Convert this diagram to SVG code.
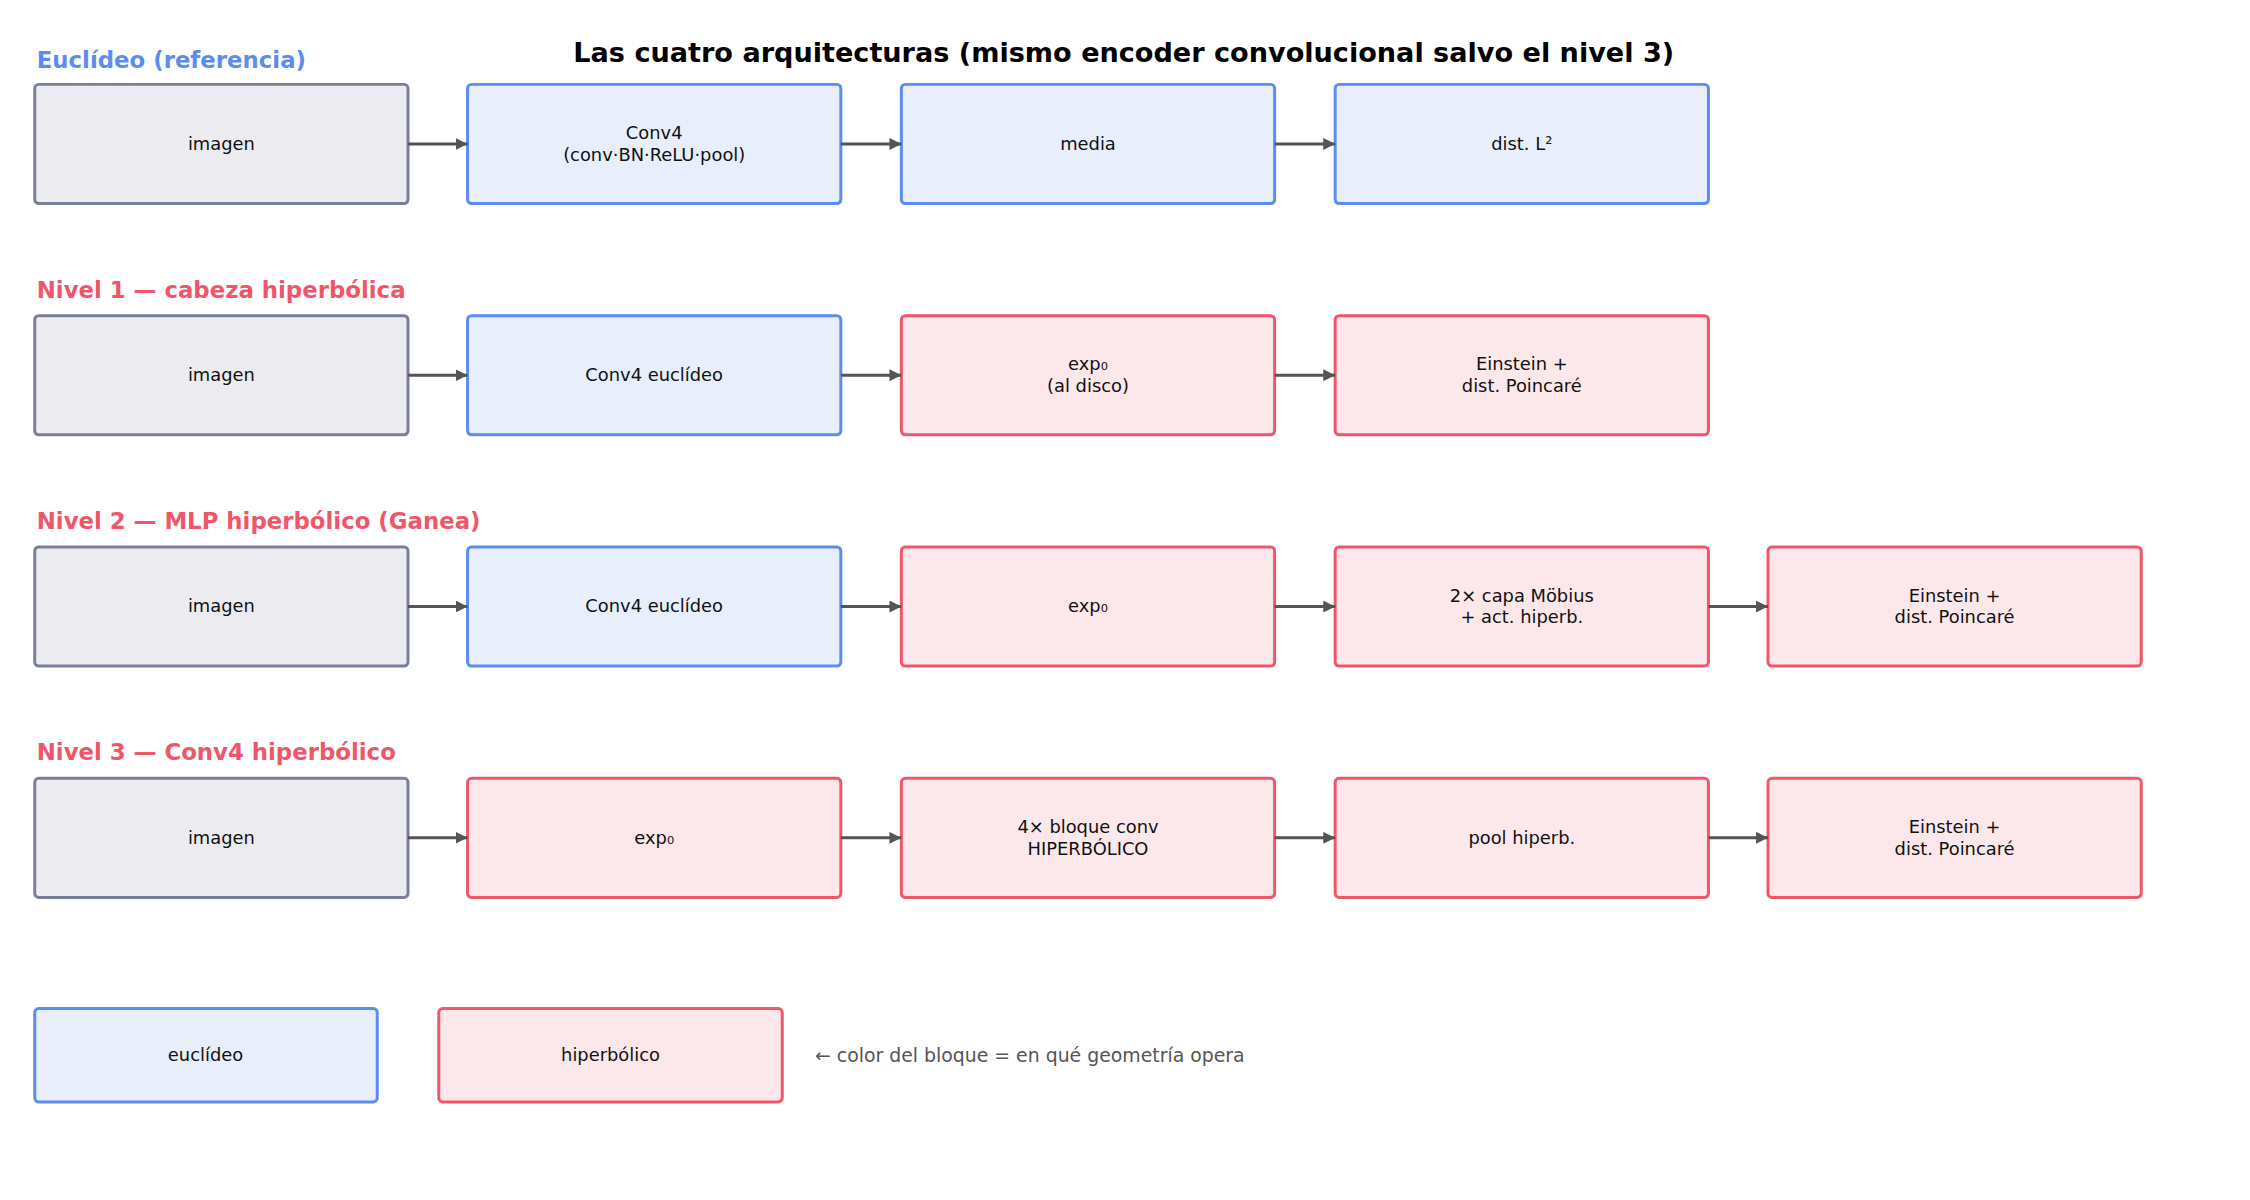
<svg xmlns="http://www.w3.org/2000/svg" width="2250" height="1200" viewBox="0 0 2250 1200">
<style>
text{font-family:"DejaVu Sans","Noto Sans",sans-serif}
.n{font-size:18px;fill:#111;text-anchor:middle}
.e rect{fill:#E8EEFC;stroke:#5B8DEF;stroke-width:3}
.h rect{fill:#FCE8EA;stroke:#F0566A;stroke-width:3}
.g rect{fill:#ECECF0;stroke:#7A7F99;stroke-width:3}
.sec{font-size:23px;font-weight:bold}
.c line{stroke:#555;stroke-width:3;marker-end:url(#a)}
</style>
<defs><marker id="a" viewBox="0 0 10 10" refX="10" refY="5" markerWidth="4" markerHeight="4" orient="auto"><path d="M0,0L10,5L0,10z" fill="#555"/></marker></defs>
<rect width="2250" height="1200" fill="#fff"/>
<g transform="scale(0.9927)">
<text x="1132" y="62" font-size="27.3" font-weight="bold" text-anchor="middle">Las cuatro arquitecturas (mismo encoder convolucional salvo el nivel 3)</text>
<text class="sec" x="37" y="69" fill="#5B8DEF">Euclídeo (referencia)</text>
<text class="sec" x="37" y="300" fill="#F0566A">Nivel 1 — cabeza hiperbólica</text>
<text class="sec" x="37" y="533" fill="#F0566A">Nivel 2 — MLP hiperbólico (Ganea)</text>
<text class="sec" x="37" y="766" fill="#F0566A">Nivel 3 — Conv4 hiperbólico</text>

<g id="r0n0" class="g"><rect x="35" y="85" width="376" height="120" rx="4"/><text class="n" x="223" y="151">imagen</text></g>
<g id="r0n1" class="e"><rect x="471" y="85" width="376" height="120" rx="4"/><text class="n" x="659" y="140">Conv4</text><text class="n" x="659" y="162">(conv·BN·ReLU·pool)</text></g>
<g id="r0n2" class="e"><rect x="908" y="85" width="376" height="120" rx="4"/><text class="n" x="1096" y="151">media</text></g>
<g id="r0n3" class="e"><rect x="1345" y="85" width="376" height="120" rx="4"/><text class="n" x="1533" y="151">dist. L²</text></g>

<g id="r1n0" class="g"><rect x="35" y="318" width="376" height="120" rx="4"/><text class="n" x="223" y="384">imagen</text></g>
<g id="r1n1" class="e"><rect x="471" y="318" width="376" height="120" rx="4"/><text class="n" x="659" y="384">Conv4 euclídeo</text></g>
<g id="r1n2" class="h"><rect x="908" y="318" width="376" height="120" rx="4"/><text class="n" x="1096" y="373">exp₀</text><text class="n" x="1096" y="395">(al disco)</text></g>
<g id="r1n3" class="h"><rect x="1345" y="318" width="376" height="120" rx="4"/><text class="n" x="1533" y="373">Einstein +</text><text class="n" x="1533" y="395">dist. Poincaré</text></g>

<g id="r2n0" class="g"><rect x="35" y="551" width="376" height="120" rx="4"/><text class="n" x="223" y="617">imagen</text></g>
<g id="r2n1" class="e"><rect x="471" y="551" width="376" height="120" rx="4"/><text class="n" x="659" y="617">Conv4 euclídeo</text></g>
<g id="r2n2" class="h"><rect x="908" y="551" width="376" height="120" rx="4"/><text class="n" x="1096" y="617">exp₀</text></g>
<g id="r2n3" class="h"><rect x="1345" y="551" width="376" height="120" rx="4"/><text class="n" x="1533" y="606">2× capa Möbius</text><text class="n" x="1533" y="628">+ act. hiperb.</text></g>
<g id="r2n4" class="h"><rect x="1781" y="551" width="376" height="120" rx="4"/><text class="n" x="1969" y="606">Einstein +</text><text class="n" x="1969" y="628">dist. Poincaré</text></g>

<g id="r3n0" class="g"><rect x="35" y="784" width="376" height="120" rx="4"/><text class="n" x="223" y="850">imagen</text></g>
<g id="r3n1" class="h"><rect x="471" y="784" width="376" height="120" rx="4"/><text class="n" x="659" y="850">exp₀</text></g>
<g id="r3n2" class="h"><rect x="908" y="784" width="376" height="120" rx="4"/><text class="n" x="1096" y="839">4× bloque conv</text><text class="n" x="1096" y="861">HIPERBÓLICO</text></g>
<g id="r3n3" class="h"><rect x="1345" y="784" width="376" height="120" rx="4"/><text class="n" x="1533" y="850">pool hiperb.</text></g>
<g id="r3n4" class="h"><rect x="1781" y="784" width="376" height="120" rx="4"/><text class="n" x="1969" y="839">Einstein +</text><text class="n" x="1969" y="861">dist. Poincaré</text></g>

<g id="leg-e" class="e"><rect x="35" y="1016" width="345" height="94" rx="4"/><text class="n" x="207" y="1069">euclídeo</text></g>
<g id="leg-h" class="h"><rect x="442" y="1016" width="346" height="94" rx="4"/><text class="n" x="615" y="1069">hiperbólico</text></g>
<text x="821" y="1070" font-size="19" fill="#555">← color del bloque = en qué geometría opera</text>

<g id="connectors" class="c">
<line x1="411" y1="145" x2="471" y2="145"/><line x1="847" y1="145" x2="908" y2="145"/><line x1="1284" y1="145" x2="1345" y2="145"/>
<line x1="411" y1="378" x2="471" y2="378"/><line x1="847" y1="378" x2="908" y2="378"/><line x1="1284" y1="378" x2="1345" y2="378"/>
<line x1="411" y1="611" x2="471" y2="611"/><line x1="847" y1="611" x2="908" y2="611"/><line x1="1284" y1="611" x2="1345" y2="611"/><line x1="1721" y1="611" x2="1781" y2="611"/>
<line x1="411" y1="844" x2="471" y2="844"/><line x1="847" y1="844" x2="908" y2="844"/><line x1="1284" y1="844" x2="1345" y2="844"/><line x1="1721" y1="844" x2="1781" y2="844"/>
</g>
</g>
</svg>
